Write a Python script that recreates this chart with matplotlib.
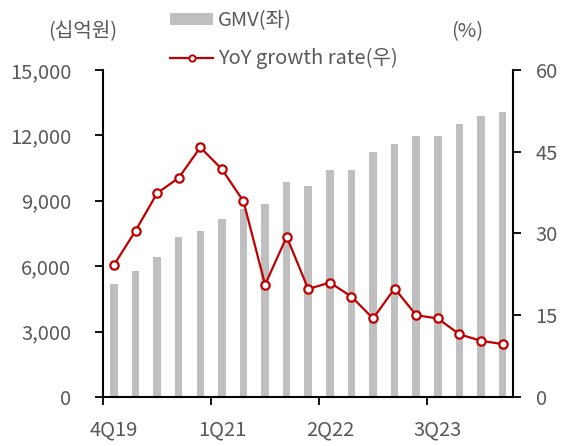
import numpy as np
import matplotlib
matplotlib.use("Agg")
import matplotlib.pyplot as plt
from matplotlib.patches import Patch
from matplotlib.lines import Line2D

plt.rcParams['font.family'] = ['Noto Sans CJK KR', 'DejaVu Sans']

quarters = ["4Q19", "1Q20", "2Q20", "3Q20", "4Q20", "1Q21", "2Q21", "3Q21", "4Q21",
            "1Q22", "2Q22", "3Q22", "4Q22", "1Q23", "2Q23", "3Q23", "4Q23", "1Q24", "2Q24"]
gmv = [5200, 5780, 6400, 7320, 7600, 8150, 8610, 8870, 9860,
       9690, 10410, 10410, 11240, 11600, 11970, 11970, 12520, 12890, 13070]
yoy = [24.2, 30.5, 37.4, 40.2, 45.8, 41.8, 35.9, 20.6, 29.4,
       19.8, 21.0, 18.4, 14.4, 19.9, 15.0, 14.4, 11.5, 10.3, 9.7]
shown_labels = ["4Q19", "1Q21", "2Q22", "3Q23"]

gray_txt = "#595959"
bar_col = "#BFBFBF"
red = "#C00000"
fs = 14.5

fig = plt.figure(figsize=(5.73, 4.46), dpi=100)
ax = fig.add_axes([0.18, 0.110, 0.716, 0.733])
ax2 = ax.twinx()

x = np.arange(len(quarters))
ax.bar(x, gmv, width=0.35, color=bar_col, zorder=1)
ax2.plot(x, yoy, color=red, lw=1.6, marker='o', markersize=6,
         markerfacecolor='white', markeredgecolor=red, markeredgewidth=1.6, zorder=3)

ax.set_xlim(-0.5, len(quarters) - 0.5)
ax.set_ylim(0, 15000)
ax2.set_ylim(0, 60)
ax.set_yticks(np.arange(0, 15001, 3000))
ax.set_yticklabels([f"{v:,}" for v in range(0, 15001, 3000)])
ax2.set_yticks(np.arange(0, 61, 15))

# major ticks between categories, labels on minor positions
ax.set_xticks([-0.5, 4.5, 9.5, 14.5])
ax.set_xticklabels([])
lab_pos = [quarters.index(q) for q in shown_labels]
ax.set_xticks(lab_pos, minor=True)
ax.set_xticklabels(shown_labels, minor=True)
ax.tick_params(axis='x', which='minor', length=0, pad=16, labelsize=fs, labelcolor=gray_txt)
ax.tick_params(axis='x', which='major', length=6, width=1.3, direction='out')
ax.tick_params(axis='y', length=6, width=1.3, direction='out', labelsize=fs, labelcolor=gray_txt, pad=17)
ax2.tick_params(axis='y', length=6, width=1.3, direction='out', labelsize=fs, labelcolor=gray_txt, pad=10)

for a in (ax, ax2):
    a.spines['top'].set_visible(False)
    for s in ('left', 'right', 'bottom'):
        a.spines[s].set_linewidth(1.5)
        a.spines[s].set_color('black')
ax.spines['right'].set_visible(False)
ax2.spines['left'].set_visible(False)
ax2.spines['bottom'].set_visible(False)

fig.text(0.145, 0.930, "(십억원)", ha='center', va='center', fontsize=fs, color=gray_txt)
fig.text(0.815, 0.930, "(%)", ha='center', va='center', fontsize=fs, color=gray_txt)

handles = [Patch(facecolor=bar_col, edgecolor='none'),
           Line2D([0], [0], color=red, lw=1.6, marker='o', markersize=4.5,
                  markerfacecolor='white', markeredgecolor=red, markeredgewidth=1.4)]
fig.legend(handles, ["GMV(좌)", "YoY growth rate(우)"], loc='upper left',
           bbox_to_anchor=(170 / 573, 1 - 10 / 446), frameon=False, fontsize=fs,
           labelcolor=gray_txt, handlelength=2.15, handleheight=0.6,
           handletextpad=0.25, labelspacing=0.85, borderpad=0, borderaxespad=0)

fig.savefig("out.png", dpi=100)
